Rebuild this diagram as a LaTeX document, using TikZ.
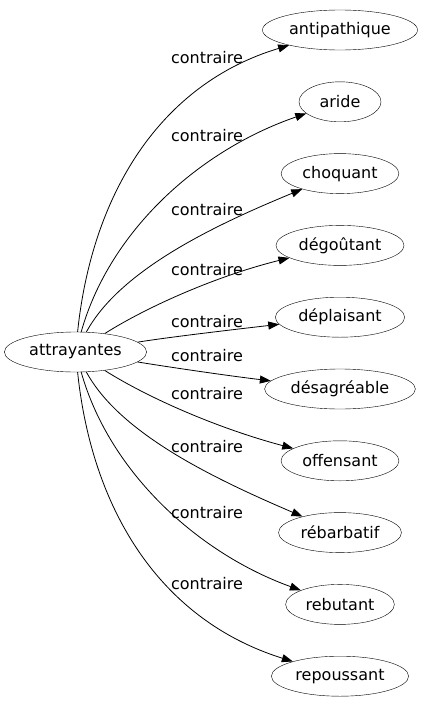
\documentclass[tikz,border=0pt]{standalone}
\usepackage{fontspec}
\setmainfont{DejaVu Sans}
\usetikzlibrary{arrows.meta,shapes.geometric}

\tikzset{
    word/.style={draw, ellipse, inner xsep=4pt, inner ysep=2pt, minimum height=40pt, minimum width=82pt, font=\fontsize{16}{16}\selectfont},
    lbl/.style={font=\fontsize{16}{16}\selectfont, inner sep=0pt},
    arc/.style={-{Triangle[length=11pt,width=8pt]}, line width=0.8pt}
}

\begin{document}
\begin{tikzpicture}[x=1pt, y=-1pt]
    \useasboundingbox (0,0) rectangle (423,707);
    \node [word] (src) at (75.5,352) {attrayantes};
    % each target: name / y / label y / first control / second control
    \foreach \name/\y/\ly/\ax/\ay/\bx/\by [count=\n] in {
        antipathique/30/58/92/194/160/84,
        aride/101.8/136/110/230/200/150,
        choquant/173.6/210/120/270/215/225,
        dégoûtant/245.4/270/150/305/220/275,
        déplaisant/317.2/322/170/337/230/330,
        désagréable/389/356/175/368/230/376,
        offensant/460.8/394/150/399/220/429,
        rébarbatif/532.6/447/120/434/215/479,
        rebutant/604.4/513/110/474/200/554,
        repoussant/676.2/584/92/510/160/620} {
        \node [word] (t\n) at (340,\y) {\name};
        \draw [arc] (src) .. controls (\ax,\ay) and (\bx,\by) .. (t\n);
        \node [lbl] (l\n) at (207,\ly) {contraire};
    }
\end{tikzpicture}
\end{document}
